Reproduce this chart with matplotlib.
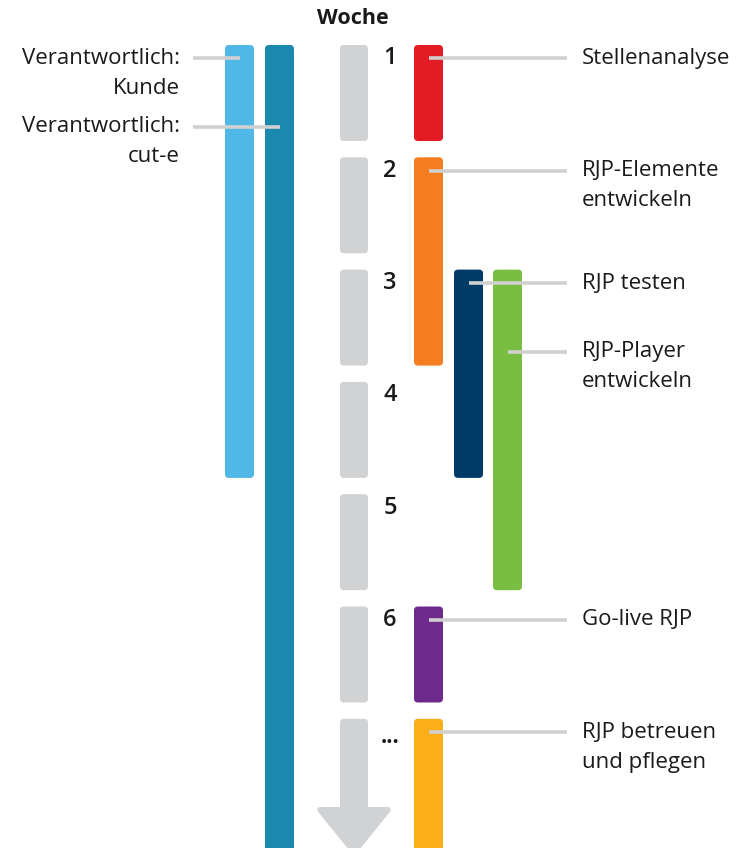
import matplotlib
matplotlib.use("Agg")
import matplotlib.pyplot as plt
from matplotlib.patches import FancyBboxPatch, Polygon

plt.rcParams["font.family"] = ["Open Sans", "DejaVu Sans"]

# ── Data ──
weeks = [1, 2, 3, 4, 5, 6, 7]
week_labels = ["1", "2", "3", "4", "5", "6", "..."]

task_names = ["Stellenanalyse", "RJP-Elemente\nentwickeln", "RJP testen",
              "RJP-Player\nentwickeln", "Go-live RJP", "RJP betreuen\nund pflegen"]
task_start = [1, 2, 3, 3, 6, 7]
task_end = [1, 3, 4, 5, 6, 8]          # last week (inclusive); 8 = open end
task_lane = [0, 0, 1, 2, 0, 0]
task_label_y = [1.12, 2.12, 3.12, 3.73, 6.12, 7.12]
task_colors = ["#E31B23", "#F47D20", "#003A66", "#78BE43", "#6D2A8C", "#FAAF19"]

resp_names = ["Verantwortlich:\nKunde", "Verantwortlich:\ncut-e"]
resp_start = [1, 1]
resp_end = [4, 8]
resp_label_y = [1.12, 1.73]
resp_colors = ["#4FB8E7", "#1B88AE"]

# ── Layout (pixels horizontally, weeks vertically) ──
W, H = 746, 848
PX_WEEK = 112.3
TOP_PX = 45
BLOCK = 96 / PX_WEEK            # filled part of a week slot
BAR_W = 29
GRAY = "#D1D2D4"
LINE = "#D0D0D0"
TXT = "#1A1A1A"
FS = 16

fig = plt.figure(figsize=(W / 100, H / 100), dpi=100)
ax = fig.add_axes([0, 0, 1, 1])
ax.set_xlim(0, W)
ax.set_ylim(1 + (H - TOP_PX) / PX_WEEK, 1 - TOP_PX / PX_WEEK)
ax.axis("off")


def rbar(x, y0, y1, color, w=BAR_W, r=4):
    p = FancyBboxPatch((x, y0), w, y1 - y0,
                       boxstyle=f"round,pad=0,rounding_size={r}",
                       mutation_aspect=1 / PX_WEEK,
                       fc=color, ec="none", zorder=2)
    ax.add_patch(p)


def label(x, y, text, ha):
    for i, line in enumerate(text.split("\n")):
        ax.text(x, y + i * 30 / PX_WEEK, line, ha=ha, va="center",
                fontsize=FS, color=TXT)


# week column
ax.text(353, 1 - 26 / PX_WEEK, "Woche", ha="center", va="center",
        fontsize=FS - 0.5, fontweight="bold", color=TXT)
for wk, lab in zip(weeks, week_labels):
    if wk < weeks[-1]:
        rbar(340, wk, wk + BLOCK, GRAY, w=28)
        ax.text(390, wk + 0.12, lab, ha="center", va="center",
                fontsize=FS + 1, fontweight="semibold", color=TXT)
    else:
        shaft_end = wk + (810 - 719) / PX_WEEK
        rbar(340, wk, shaft_end + 0.1, GRAY, w=28)
        tip = shaft_end + 42 / PX_WEEK
        ax.add_patch(Polygon([(320, shaft_end), (388, shaft_end), (354, tip)],
                             closed=True, fc=GRAY, ec=GRAY, lw=4,
                             joinstyle="round", zorder=2))
        ax.text(390, wk + 0.17, lab, ha="center", va="center",
                fontsize=FS, fontweight="bold", color=TXT)

# tasks
lanes_x = [414, 454, 493]
for name, s, e, lane, ly, c in zip(task_names, task_start, task_end,
                                    task_lane, task_label_y, task_colors):
    x = lanes_x[lane]
    rbar(x, s, e + BLOCK, c)
    ax.plot([x + BAR_W / 2, 567], [ly, ly], color=LINE, lw=2.6,
            solid_capstyle="butt", zorder=3)
    label(582, ly, name, "left")

# responsibilities
resp_x = [225, 265]
for name, s, e, ly, c, x in zip(resp_names, resp_start, resp_end,
                                resp_label_y, resp_colors, resp_x):
    rbar(x, s, e + BLOCK, c)
    ax.plot([193, x + BAR_W / 2], [ly, ly], color=LINE, lw=2.6,
            solid_capstyle="butt", zorder=3)
    label(180, ly, name, "right")

fig.savefig("out.png", dpi=100)
